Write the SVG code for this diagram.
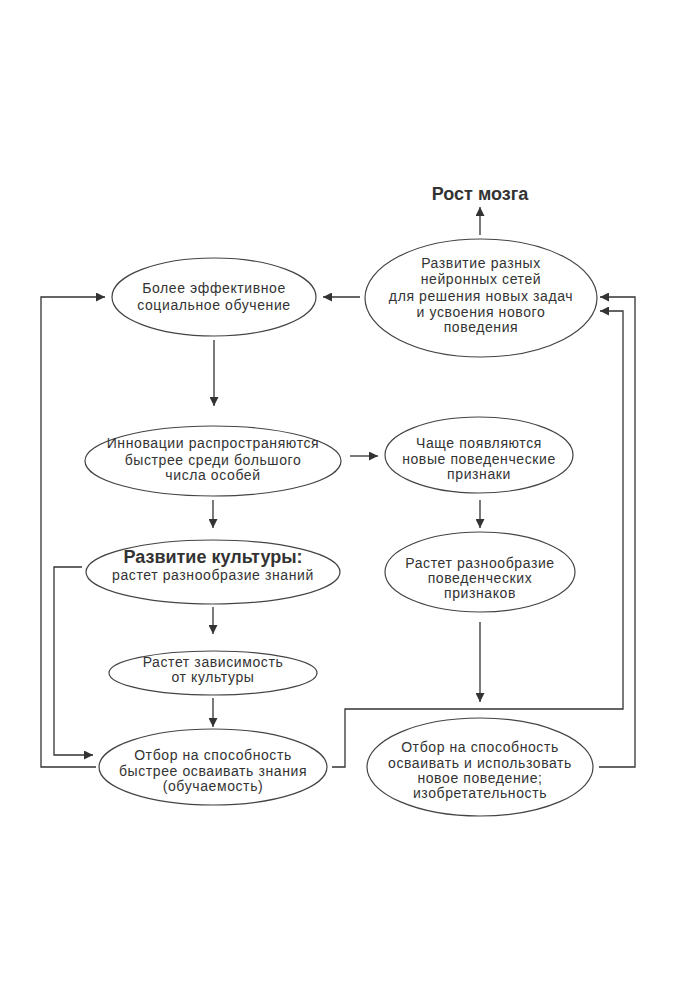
<svg xmlns="http://www.w3.org/2000/svg" width="700" height="1000" viewBox="0 0 700 1000">
<defs>
<style>
.n ellipse{fill:#fff;stroke:#444;stroke-width:1.2}
text{font-family:"Liberation Sans","DejaVu Sans",sans-serif;font-size:14px;letter-spacing:0.6px;fill:#333;text-anchor:middle}
.b{font-weight:bold;font-size:18px;letter-spacing:0}
.c path{fill:none;stroke:#333;stroke-width:1.3}
</style>
<marker id="ah" viewBox="0 0 10 10" refX="10" refY="5" markerWidth="9" markerHeight="9" markerUnits="userSpaceOnUse" orient="auto">
<path d="M0,0 L10,5 L0,10 z" fill="#333"/>
</marker>
</defs>
<rect width="700" height="1000" fill="#fff"/>
<g class="c" id="connectors">
<path d="M480,235 V207" marker-end="url(#ah)"/>
<path d="M360,297 H323" marker-end="url(#ah)"/>
<path d="M214,340 V406" marker-end="url(#ah)"/>
<path d="M350,456 H378" marker-end="url(#ah)"/>
<path d="M213,500 V528" marker-end="url(#ah)"/>
<path d="M480,500 V528" marker-end="url(#ah)"/>
<path d="M213,607 V634" marker-end="url(#ah)"/>
<path d="M213,698 V727" marker-end="url(#ah)"/>
<path d="M480,622 V702" marker-end="url(#ah)"/>
<path d="M82,567 H54 V755 H93" marker-end="url(#ah)"/>
<path d="M96,767 H41 V297 H105" marker-end="url(#ah)"/>
<path d="M332,767 H345 V709 H623 V311 H600" marker-end="url(#ah)"/>
<path d="M599,767 H635 V297 H600" marker-end="url(#ah)"/>
</g>
<g id="brain"><text class="b" x="480" y="200">Рост мозга</text></g>
<g class="n" id="social">
<ellipse cx="214" cy="297" rx="102" ry="39"/>
<text x="214" y="293">Более эффективное</text>
<text x="214" y="310">социальное обучение</text>
</g>
<g class="n" id="networks">
<ellipse cx="481" cy="298" rx="116" ry="59"/>
<text x="481" y="268">Развитие разных</text>
<text x="481" y="284">нейронных сетей</text>
<text x="481" y="301">для решения новых задач</text>
<text x="481" y="317">и усвоения нового</text>
<text x="481" y="332">поведения</text>
</g>
<g class="n" id="innov">
<ellipse cx="213" cy="461" rx="128" ry="35"/>
<text x="213" y="448">Инновации распространяются</text>
<text x="213" y="465">быстрее среди большого</text>
<text x="213" y="480">числа особей</text>
</g>
<g class="n" id="newtraits">
<ellipse cx="479" cy="455" rx="94" ry="38"/>
<text x="479" y="448">Чаще появляются</text>
<text x="479" y="464">новые поведенческие</text>
<text x="479" y="479">признаки</text>
</g>
<g class="n" id="culture">
<ellipse cx="213" cy="572" rx="127" ry="32"/>
<text class="b" x="213" y="563">Развитие культуры:</text>
<text x="213" y="580">растет разнообразие знаний</text>
</g>
<g class="n" id="diversity">
<ellipse cx="480" cy="572" rx="95" ry="40"/>
<text x="480" y="568">Растет разнообразие</text>
<text x="480" y="583">поведенческих</text>
<text x="480" y="598">признаков</text>
</g>
<g class="n" id="dependence">
<ellipse cx="213" cy="673" rx="104" ry="22"/>
<text x="213" y="667">Растет зависимость</text>
<text x="213" y="682">от культуры</text>
</g>
<g class="n" id="learnability">
<ellipse cx="213" cy="767" rx="114" ry="38"/>
<text x="213" y="760">Отбор на способность</text>
<text x="213" y="776">быстрее осваивать знания</text>
<text x="213" y="791">(обучаемость)</text>
</g>
<g class="n" id="inventiveness">
<ellipse cx="480" cy="767" rx="113" ry="49"/>
<text x="480" y="752">Отбор на способность</text>
<text x="480" y="768">осваивать и использовать</text>
<text x="480" y="783">новое поведение;</text>
<text x="480" y="798">изобретательность</text>
</g>
</svg>
